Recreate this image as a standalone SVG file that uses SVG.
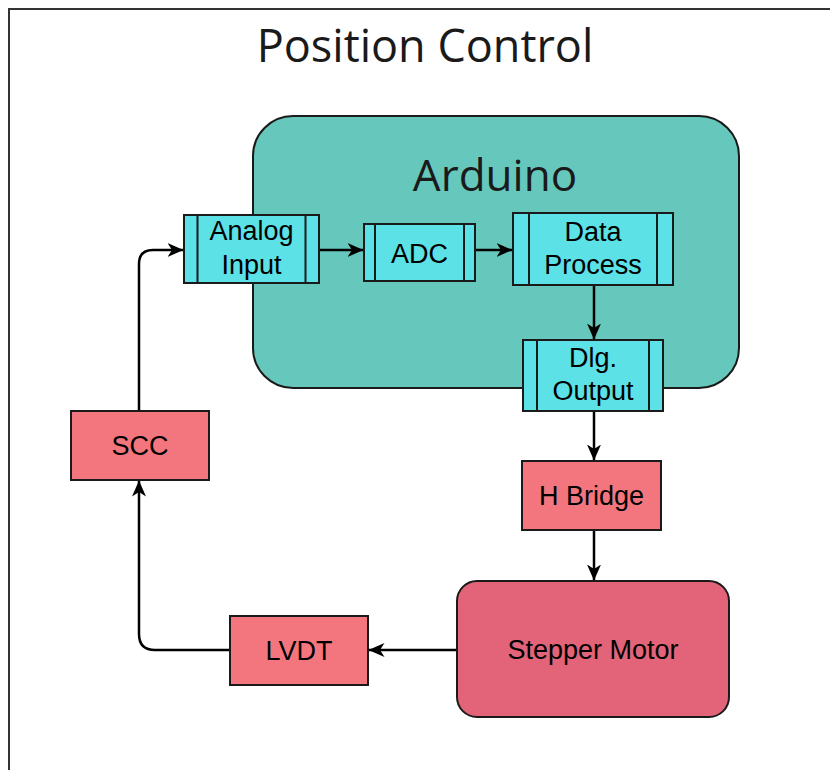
<svg xmlns="http://www.w3.org/2000/svg" width="830" height="770" viewBox="0 0 830 770">
<defs>
<style>
.frame{fill:#ffffff;stroke:#333333;stroke-width:2}
.title{font-family:"Open Sans","Noto Sans",sans-serif;font-size:45px;fill:#1a1a1a;text-anchor:middle}
.ardt{font-family:"Open Sans","Noto Sans",sans-serif;font-size:44px;fill:#1a1a1a;text-anchor:middle}
.lbl{font-family:"Liberation Sans",Arial,sans-serif;font-size:27px;fill:#000000;text-anchor:middle}
.ard{fill:#66c8bc;stroke:#1a1a1a;stroke-width:2}
.proc{fill:#5be1e6;stroke:#1a1a1a;stroke-width:2}
.inner{stroke:#1a1a1a;stroke-width:2;fill:none}
.pink{fill:#f3767f;stroke:#1a1a1a;stroke-width:2}
.motor{fill:#e36478;stroke:#1a1a1a;stroke-width:2}
.conn{fill:none;stroke:#000000;stroke-width:2.5;marker-end:url(#arr)}
</style>
<marker id="arr" viewBox="0 0 16 16" refX="15.5" refY="8" markerWidth="16" markerHeight="16" markerUnits="userSpaceOnUse" orient="auto">
<path d="M0,1 L16,8 L0,15 L4.5,8 z" fill="#000000"/>
</marker>
</defs>
<rect class="frame" x="9" y="9" width="900" height="900"/>
<text class="title" x="425" y="62">Position Control</text>

<g id="arduino">
<rect class="ard" x="253" y="116" width="486" height="272" rx="40" ry="40"/>
<text class="ardt" x="495" y="191">Arduino</text>
</g>

<g id="connectors">
<path class="conn" d="M139,410 L139,264 Q139,250 153,250 L183,250"/>
<path class="conn" d="M320,250 L363,250"/>
<path class="conn" d="M476,250 L512,250"/>
<path class="conn" d="M594,285 L594,339"/>
<path class="conn" d="M594,411 L594,460"/>
<path class="conn" d="M594,530 L594,580"/>
<path class="conn" d="M457,650 L369,650"/>
<path class="conn" d="M230,650 L155,650 Q139,650 139,634 L139,481"/>
</g>

<g id="analog-input">
<rect class="proc" x="184" y="215" width="135" height="68"/>
<path class="inner" d="M197.5,215 V283 M305.5,215 V283"/>
<text class="lbl" x="251.5" y="240">Analog</text>
<text class="lbl" x="251.5" y="274">Input</text>
</g>

<g id="adc">
<rect class="proc" x="364" y="224" width="111" height="57"/>
<path class="inner" d="M375,224 V281 M464,224 V281"/>
<text class="lbl" x="419.5" y="263">ADC</text>
</g>

<g id="data-process">
<rect class="proc" x="513" y="213" width="160" height="72"/>
<path class="inner" d="M529,213 V285 M657,213 V285"/>
<text class="lbl" x="593" y="241">Data</text>
<text class="lbl" x="593" y="274">Process</text>
</g>

<g id="dig-output">
<rect class="proc" x="523" y="340" width="140" height="71"/>
<path class="inner" d="M537,340 V411 M649,340 V411"/>
<text class="lbl" x="593" y="367">Dlg.</text>
<text class="lbl" x="593" y="400">Output</text>
</g>

<g id="h-bridge">
<rect class="pink" x="522" y="461" width="139" height="69"/>
<text class="lbl" x="591.5" y="505">H Bridge</text>
</g>

<g id="stepper-motor">
<rect class="motor" x="457" y="581" width="272" height="136" rx="20" ry="20"/>
<text class="lbl" x="593" y="659">Stepper Motor</text>
</g>

<g id="lvdt">
<rect class="pink" x="230" y="616" width="138" height="69"/>
<text class="lbl" x="299" y="660">LVDT</text>
</g>

<g id="scc">
<rect class="pink" x="71" y="411" width="138" height="69"/>
<text class="lbl" x="140" y="455">SCC</text>
</g>
</svg>
